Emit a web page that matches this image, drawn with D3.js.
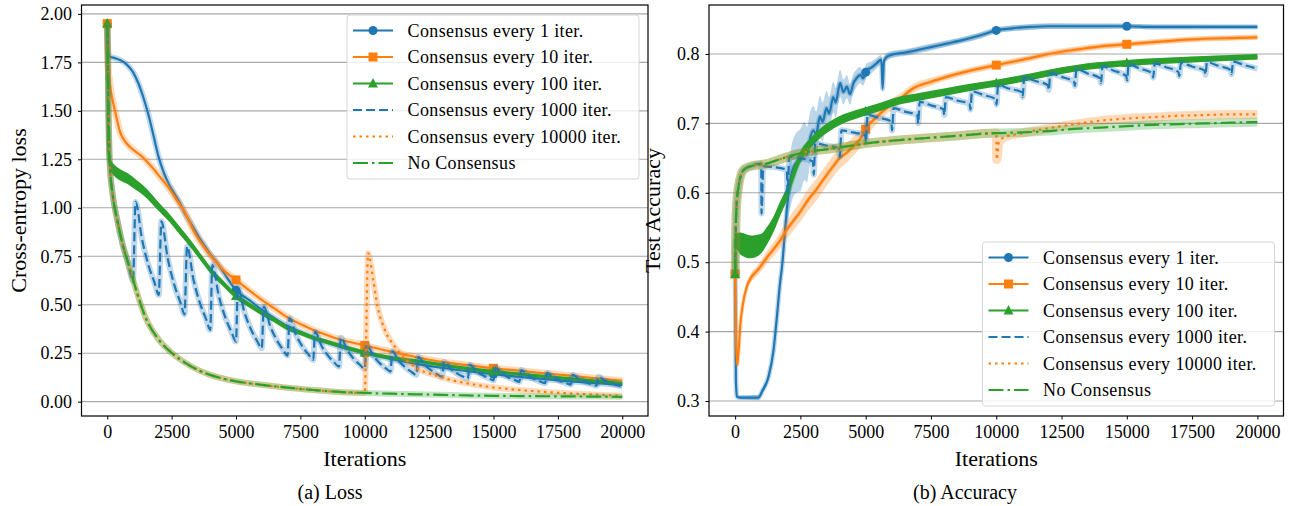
<!DOCTYPE html>
<html>
<head>
<meta charset="utf-8">
<script src="https://cdn.jsdelivr.net/npm/d3@7"></script>
<style>
  body { margin: 0; background: #fff; }
  svg text { font-family: "Liberation Serif", "Times New Roman", serif; fill: #000; }
</style>
</head>
<body>
<svg width="1293" height="506"></svg>
<script>

// legend labels, one per run
const seriesNames = [
  'Consensus every 1 iter.',
  'Consensus every 10 iter.',
  'Consensus every 100 iter.',
  'Consensus every 1000 iter.',
  'Consensus every 10000 iter.',
  'No Consensus'
];

const xTicks = [0, 2500, 5000, 7500, 10000, 12500, 15000, 17500, 20000];
const lossTicks = [0, 0.25, 0.5, 0.75, 1.0, 1.25, 1.5, 1.75, 2.0];
const accTicks = [0.3, 0.4, 0.5, 0.6, 0.7, 0.8];
const markerIters = [0, 5000, 10000, 15000];

// ---- loss, [iteration, value] ----
const lossEvery1 = [[0,1.95],[40,1.80],[100,1.78],[300,1.772],[500,1.762],[750,1.74],[1000,1.70],[1200,1.645],
  [1400,1.57],[1600,1.48],[1800,1.37],[2000,1.26],[2200,1.18],[2400,1.12],[2600,1.075],[2800,1.03],[3000,0.975],
  [3200,0.93],[3400,0.885],[3600,0.84],[3800,0.80],[4000,0.76],[4300,0.71],[4600,0.65],[5000,0.575],[5500,0.525],
  [6000,0.475],[6500,0.43],[7000,0.39],[7500,0.36],[8000,0.33],[9000,0.285],[10000,0.25],[11000,0.22],[12000,0.195],
  [13000,0.175],[14000,0.157],[15000,0.142],[16000,0.128],[17000,0.116],[18000,0.105],[19000,0.095],[20000,0.086]];

const lossEvery10 = [[0,1.95],[30,1.75],[100,1.64],[200,1.56],[300,1.50],[500,1.39],[750,1.333],[1000,1.30],
  [1300,1.27],[1600,1.23],[1800,1.20],[2100,1.15],[2400,1.10],[2700,1.04],[3000,0.98],[3400,0.87],[3800,0.79],
  [4100,0.74],[4500,0.68],[5000,0.628],[5500,0.575],[6000,0.525],[6500,0.48],[7000,0.435],[7500,0.40],[8000,0.37],
  [8500,0.345],[9000,0.322],[10000,0.29],[11000,0.258],[12000,0.23],[13000,0.205],[14000,0.188],[15000,0.172],
  [16000,0.16],[17000,0.146],[18000,0.134],[19000,0.12],[20000,0.108]];

const lossEvery100 = [[0,1.95],[30,1.35],[80,1.24],[150,1.215],[300,1.19],[500,1.17],[800,1.15],[1100,1.12],
  [1400,1.09],[1700,1.05],[2000,1.005],[2400,0.95],[2800,0.885],[3200,0.82],[3600,0.75],[4000,0.68],[4500,0.61],
  [5000,0.545],[5500,0.50],[6000,0.458],[6500,0.42],[7000,0.38],[7500,0.355],[8000,0.33],[8500,0.31],[9000,0.29],
  [10000,0.253],[11000,0.227],[12000,0.21],[13000,0.19],[14000,0.17],[15000,0.155],[16000,0.142],[17000,0.13],
  [18000,0.118],[19000,0.106],[20000,0.095]];
// half height of the dense zig-zag of the 100-iteration run
const lossSpread100 = [[0,0],[60,0.03],[1000,0.028],[2000,0.022],[4000,0.016],[6000,0.012],[10000,0.009],[20000,0.007]];

const lossEvery1000 = [[0,1.95],[50,1.5],[100,1.22],[200,1.08],[400,0.93],[600,0.81],[800,0.72],[1000,0.625],
  [1100,1.03],[1350,0.838],[1600,0.704],[1850,0.608],[2000,0.55],
  [2100,0.93],[2350,0.738],[2600,0.604],[2850,0.508],[3000,0.45],
  [3100,0.80],[3350,0.628],[3600,0.508],[3850,0.422],[4000,0.37],
  [4080,0.705],[4330,0.547],[4580,0.436],[4830,0.357],[5000,0.31],
  [5070,0.59],[5320,0.464],[5570,0.376],[5820,0.313],[6000,0.275],
  [6080,0.49],[6330,0.389],[6580,0.318],[6830,0.267],[7000,0.237],
  [7080,0.43],[7330,0.344],[7580,0.284],[7830,0.241],[8000,0.215],
  [8070,0.36],[8320,0.288],[8570,0.238],[8820,0.202],[9000,0.18],
  [9070,0.33],[9320,0.266],[9570,0.221],[9820,0.189],[10000,0.17],
  [10070,0.295],[10320,0.239],[10570,0.20],[10820,0.172],[11000,0.155],
  [11070,0.26],[11320,0.211],[11570,0.177],[11820,0.153],[12000,0.138],
  [12080,0.23],[12330,0.189],[12580,0.161],[12830,0.14],[13000,0.128],
  [13080,0.205],[13330,0.17],[13580,0.146],[13830,0.128],[14000,0.118],
  [14080,0.19],[14330,0.158],[14580,0.136],[14830,0.12],[15000,0.11],
  [15080,0.175],[15330,0.146],[15580,0.125],[15830,0.111],[16000,0.102],
  [16080,0.163],[16330,0.136],[16580,0.117],[16830,0.103],[17000,0.095],
  [17080,0.148],[17330,0.124],[17580,0.107],[17830,0.095],[18000,0.088],
  [18080,0.138],[18330,0.116],[18580,0.10],[18830,0.089],[19000,0.082],
  [19080,0.128],[19330,0.108],[19580,0.094],[19830,0.084],[20000,0.078]];

const lossEvery10000 = [[0,1.95],[50,1.5],[100,1.22],[200,1.08],[400,0.93],[600,0.81],[800,0.72],[1000,0.63],
  [1500,0.43],[2000,0.32],[2500,0.252],[3000,0.203],[3500,0.165],[4000,0.138],[5000,0.105],[6000,0.087],[7000,0.072],
  [8000,0.06],[9000,0.05],[10000,0.045],[10130,0.765],[10330,0.628],[10485,0.50],[10780,0.37],[11170,0.284],
  [11750,0.198],[12900,0.129],[14350,0.086],[16000,0.06],[17500,0.046],[19000,0.036],[20000,0.03]];

const lossNone = [[0,1.95],[50,1.5],[100,1.22],[200,1.08],[400,0.93],[600,0.81],[800,0.72],[1000,0.63],
  [1500,0.43],[2000,0.32],[2500,0.252],[3000,0.203],[3500,0.165],[4000,0.138],[5000,0.105],[6000,0.087],[7000,0.072],
  [8000,0.06],[9000,0.05],[10000,0.045],[11000,0.041],[12000,0.038],[13000,0.035],[14000,0.032],[15000,0.03],
  [16000,0.029],[17000,0.028],[18000,0.027],[19000,0.026],[20000,0.025]];

// ---- test accuracy ----
const accEvery1 = [[0,0.483],[30,0.33],[70,0.306],[200,0.305],[500,0.305],[890,0.305],[1050,0.315],[1280,0.335],
  [1470,0.373],[1600,0.421],[1720,0.47],[1800,0.495],[1920,0.55],[2040,0.598],[2150,0.625],[2250,0.638],[2400,0.645],
  [2500,0.647],[2650,0.66],[2750,0.655],[2850,0.675],[3000,0.69],[3100,0.684],[3250,0.71],[3350,0.702],[3500,0.722],
  [3600,0.714],[3760,0.738],[3850,0.73],[4020,0.758],[4150,0.745],[4280,0.753],[4400,0.742],[4530,0.758],[4650,0.765],
  [4790,0.77],[4900,0.765],[5040,0.777],[5200,0.78],[5430,0.787],[5600,0.792],[5650,0.75],[5700,0.79],[5810,0.796],
  [6100,0.80],[6500,0.802],[7000,0.806],[7500,0.81],[8100,0.815],[8700,0.82],[9400,0.827],[10000,0.834],[10600,0.837],
  [11300,0.839],[12000,0.84],[13000,0.84],[14000,0.84],[15000,0.84],[16000,0.839],[17000,0.839],[18000,0.839],
  [19000,0.839],[20000,0.839]];
const accSpread1 = [[0,0.002],[1800,0.006],[2100,0.04],[2500,0.045],[3000,0.035],[3500,0.025],[4000,0.02],
  [4500,0.014],[5000,0.01],[5500,0.007],[6000,0.005],[20000,0.003]];

const accEvery10 = [[0,0.483],[30,0.40],[80,0.352],[130,0.37],[200,0.41],[300,0.44],[450,0.465],[650,0.48],
  [850,0.488],[1000,0.495],[1200,0.506],[1500,0.52],[1700,0.53],[2000,0.548],[2200,0.558],[2500,0.573],[2800,0.59],
  [3100,0.604],[3400,0.62],[3750,0.638],[4000,0.65],[4280,0.658],[4550,0.668],[4800,0.678],[5050,0.695],[5300,0.705],
  [5550,0.714],[5800,0.722],[6300,0.735],[6800,0.75],[7500,0.76],[8100,0.767],[9000,0.776],[10000,0.784],
  [11300,0.794],[12000,0.80],[13200,0.807],[14000,0.811],[15000,0.814],[16000,0.817],[17500,0.821],[19000,0.823],
  [20000,0.824]];
const accSpread10 = [[0,0.002],[500,0.006],[1000,0.008],[2000,0.013],[3000,0.016],[4000,0.015],[5000,0.012],
  [6000,0.008],[8000,0.005],[20000,0.004]];

const accEvery100 = [[0,0.483],[20,0.53],[200,0.527],[600,0.522],[1000,0.527],[1200,0.537],[1500,0.557],
  [1700,0.575],[2000,0.60],[2250,0.628],[2500,0.652],[2900,0.672],[3400,0.69],[4000,0.704],[4800,0.715],
  [5500,0.723],[6300,0.733],[7000,0.738],[8000,0.745],[9000,0.752],[10000,0.758],[11300,0.767],[12500,0.776],
  [13500,0.782],[15000,0.787],[17500,0.792],[20000,0.796]];
const accSpread100 = [[0,0],[30,0.015],[500,0.017],[1000,0.014],[1500,0.011],[2000,0.009],[3000,0.007],
  [5000,0.006],[10000,0.005],[20000,0.004]];

const accEvery1000 = [[0,0.483],[40,0.57],[130,0.609],[320,0.633],[570,0.638],[1000,0.642],
  [1010,0.57],[1080,0.638],[1500,0.637],[1980,0.633],[2010,0.60],[2070,0.652],[2500,0.65],[2980,0.645],
  [3010,0.626],[3070,0.671],[3500,0.668],[3980,0.664],[4010,0.652],[4070,0.69],[4500,0.687],[4980,0.683],
  [5010,0.672],[5070,0.712],[5500,0.708],[5980,0.703],[6010,0.69],[6070,0.722],[6500,0.717],[6980,0.712],
  [7010,0.70],[7070,0.731],[7500,0.726],[7980,0.72],[8010,0.712],[8070,0.738],[8500,0.733],[8980,0.728],
  [9010,0.72],[9070,0.746],[9500,0.741],[9980,0.735],[10010,0.727],[10070,0.755],[10500,0.75],[10980,0.745],
  [11010,0.738],[11070,0.766],[11500,0.761],[11980,0.755],[12010,0.748],[12070,0.772],[12500,0.767],[12980,0.76],
  [13010,0.754],[13070,0.778],[13500,0.772],[13980,0.765],[14010,0.758],[14070,0.782],[14500,0.776],[14980,0.768],
  [15010,0.762],[15070,0.785],[15500,0.779],[15980,0.772],[16010,0.766],[16070,0.786],[16500,0.781],[16980,0.774],
  [17010,0.768],[17070,0.787],[17500,0.782],[17980,0.776],[18010,0.77],[18070,0.788],[18500,0.783],[18980,0.777],
  [19010,0.771],[19070,0.789],[19500,0.784],[20000,0.779]];

const accEvery10000 = [[0,0.483],[40,0.57],[130,0.609],[320,0.633],[570,0.638],[1200,0.642],[1850,0.65],
  [2500,0.657],[3800,0.664],[5000,0.671],[6300,0.676],[8100,0.681],[10000,0.686],[10020,0.648],[10100,0.672],
  [10300,0.68],[11000,0.686],[12000,0.693],[13000,0.699],[14000,0.704],[15000,0.707],[16000,0.709],[17000,0.711],
  [18000,0.712],[19000,0.713],[20000,0.713]];

const accNone = [[0,0.483],[40,0.57],[130,0.609],[320,0.633],[570,0.638],[1200,0.642],[1850,0.65],[2500,0.657],
  [3800,0.664],[5000,0.671],[6300,0.676],[8100,0.681],[10000,0.686],[11000,0.687],[12000,0.689],[13000,0.692],
  [14000,0.694],[15000,0.696],[16000,0.698],[17000,0.699],[18000,0.70],[19000,0.701],[20000,0.702]];

// ---- styles ----
const colors = ['#1f77b4', '#ff7f0e', '#2ca02c', '#1f77b4', '#ff7f0e', '#2ca02c'];
const dashes = [null, null, null, '9,4', '2.5,4', '15,4,2.5,4'];
const markers = ['circle', 'square', 'triangle', null, null, null];

const svg = d3.select('svg');

function drawMarker(g, kind, cx, cy, color) {
  if (kind === 'circle') {
    g.append('circle').attr('cx', cx).attr('cy', cy).attr('r', 4.5).attr('fill', color);
  } else if (kind === 'square') {
    g.append('rect').attr('x', cx - 4.5).attr('y', cy - 4.5).attr('width', 9).attr('height', 9).attr('fill', color);
  } else if (kind === 'triangle') {
    g.append('path').attr('d', `M${cx},${cy - 5.5}L${cx + 5},${cy + 4}L${cx - 5},${cy + 4}Z`).attr('fill', color);
  }
}

function drawPanel(p) {
  const x = d3.scaleLinear().domain([-1000, 21000]).range([p.left, p.right]);
  const y = d3.scaleLinear().domain(p.yDomain).range([p.bottom, p.top]);
  const g = svg.append('g');

  // horizontal grid
  g.append('g').selectAll('line')
    .data(p.yTicks)
    .join('line')
    .attr('x1', p.left).attr('x2', p.right)
    .attr('y1', d => y(d)).attr('y2', d => y(d))
    .attr('stroke', '#a8a8a8').attr('stroke-width', 1.1);

  const clipId = 'clip-' + p.id;
  svg.append('clipPath').attr('id', clipId)
    .append('rect').attr('x', p.left).attr('y', p.top)
    .attr('width', p.right - p.left).attr('height', p.bottom - p.top);

  const plot = g.append('g').attr('clip-path', `url(#${clipId})`);
  const line = d3.line().x(d => x(d[0])).y(d => y(d[1])).curve(d3.curveMonotoneX);

  p.series.forEach((s, i) => {
    const color = colors[i];
    if (s.spread) {
      const sp = d3.scaleLinear().domain(s.spread.map(d => d[0])).range(s.spread.map(d => d[1])).clamp(true);
      const area = d3.area()
        .x(d => x(d[0]))
        .y0(d => y(d[1] - sp(d[0])))
        .y1(d => y(d[1] + sp(d[0])))
        .curve(d3.curveMonotoneX);
      plot.append('path').attr('d', area(s.data))
        .attr('fill', color).attr('opacity', s.spreadOpacity);
    }
    plot.append('path').attr('d', line(s.data))
      .attr('fill', 'none').attr('stroke', color)
      .attr('stroke-width', s.halo).attr('stroke-opacity', 0.28)
      .attr('stroke-linejoin', 'round');
    plot.append('path').attr('d', line(s.data))
      .attr('fill', 'none').attr('stroke', color)
      .attr('stroke-width', 2.2)
      .attr('stroke-dasharray', dashes[i])
      .attr('stroke-linejoin', 'round');
    if (markers[i]) {
      const at = d3.scaleLinear().domain(s.data.map(d => d[0])).range(s.data.map(d => d[1]));
      markerIters.forEach(it => drawMarker(plot, markers[i], x(it), y(at(it)), color));
    }
  });

  // axes
  const yAxis = g.append('g')
    .attr('transform', `translate(${p.left},0)`)
    .call(d3.axisLeft(y).tickValues(p.yTicks).tickFormat(d3.format(p.fmt)).tickSize(3.5).tickPadding(6));
  const xAxis = g.append('g')
    .attr('transform', `translate(0,${p.bottom})`)
    .call(d3.axisBottom(x).tickValues(xTicks).tickFormat(d3.format('d')).tickSize(3.5).tickPadding(6));
  [yAxis, xAxis].forEach(a => {
    a.select('.domain').remove();
    a.selectAll('.tick line').attr('stroke', '#000').attr('stroke-width', 1);
    a.selectAll('.tick text').attr('font-size', 18).attr('font-family', '"Liberation Serif", serif');
  });

  // frame
  g.append('rect')
    .attr('x', p.left).attr('y', p.top)
    .attr('width', p.right - p.left).attr('height', p.bottom - p.top)
    .attr('fill', 'none').attr('stroke', '#000').attr('stroke-width', 1.2);

  // labels
  const cx = (p.left + p.right) / 2;
  g.append('text').attr('x', cx).attr('y', 466)
    .attr('text-anchor', 'middle').attr('font-size', 22).text('Iterations');
  g.append('text')
    .attr('transform', `translate(${p.yLabelX},${(p.top + p.bottom) / 2}) rotate(-90)`)
    .attr('text-anchor', 'middle').attr('font-size', 22).text(p.yLabel);
  g.append('text').attr('x', p.captionX).attr('y', 499)
    .attr('text-anchor', 'middle').attr('font-size', 20).text(p.caption);

  // legend
  const lw = 292, lh = 164, rowH = 26.5;
  const lx = p.right - 9 - lw;
  const ly = p.legendTop ? p.top + 10 : p.bottom - 10 - lh;
  const lg = g.append('g').attr('transform', `translate(${lx},${ly})`);
  lg.append('rect').attr('width', lw).attr('height', lh).attr('rx', 3)
    .attr('fill', '#fff').attr('fill-opacity', 0.8)
    .attr('stroke', '#d6d6d6').attr('stroke-width', 1);
  seriesNames.forEach((name, i) => {
    const ry = 15.5 + i * rowH;
    lg.append('line').attr('x1', 6).attr('x2', 46).attr('y1', ry).attr('y2', ry)
      .attr('stroke', colors[i]).attr('stroke-width', 2.2)
      .attr('stroke-dasharray', dashes[i]);
    if (markers[i]) drawMarker(lg, markers[i], 26, ry, colors[i]);
    lg.append('text').attr('x', 60.5).attr('y', ry).attr('dy', '0.34em')
      .attr('font-size', 18).attr('letter-spacing', 0.4).text(name);
  });
}

drawPanel({
  id: 'loss', left: 81.5, right: 648, top: 5, bottom: 416,
  yDomain: [-0.074, 2.046], yTicks: lossTicks, fmt: '.2f',
  yLabel: 'Cross-entropy loss', yLabelX: 26, caption: '(a) Loss', captionX: 330,
  legendTop: true,
  series: [
    { data: lossEvery1, halo: 6 },
    { data: lossEvery10, halo: 7 },
    { data: lossEvery100, halo: 5, spread: lossSpread100, spreadOpacity: 1 },
    { data: lossEvery1000, halo: 6 },
    { data: lossEvery10000, halo: 6 },
    { data: lossNone, halo: 6 }
  ]
});

drawPanel({
  id: 'acc', left: 709, right: 1283.5, top: 5, bottom: 416,
  yDomain: [0.2784, 0.8706], yTicks: accTicks, fmt: '.1f',
  yLabel: 'Test Accuracy', yLabelX: 660, caption: '(b) Accuracy', captionX: 965,
  legendTop: false,
  series: [
    { data: accEvery1, halo: 5, spread: accSpread1, spreadOpacity: 0.3 },
    { data: accEvery10, halo: 4, spread: accSpread10, spreadOpacity: 0.3 },
    { data: accEvery100, halo: 6, spread: accSpread100, spreadOpacity: 1 },
    { data: accEvery1000, halo: 6 },
    { data: accEvery10000, halo: 9 },
    { data: accNone, halo: 9 }
  ]
});

</script>
</body>
</html>
